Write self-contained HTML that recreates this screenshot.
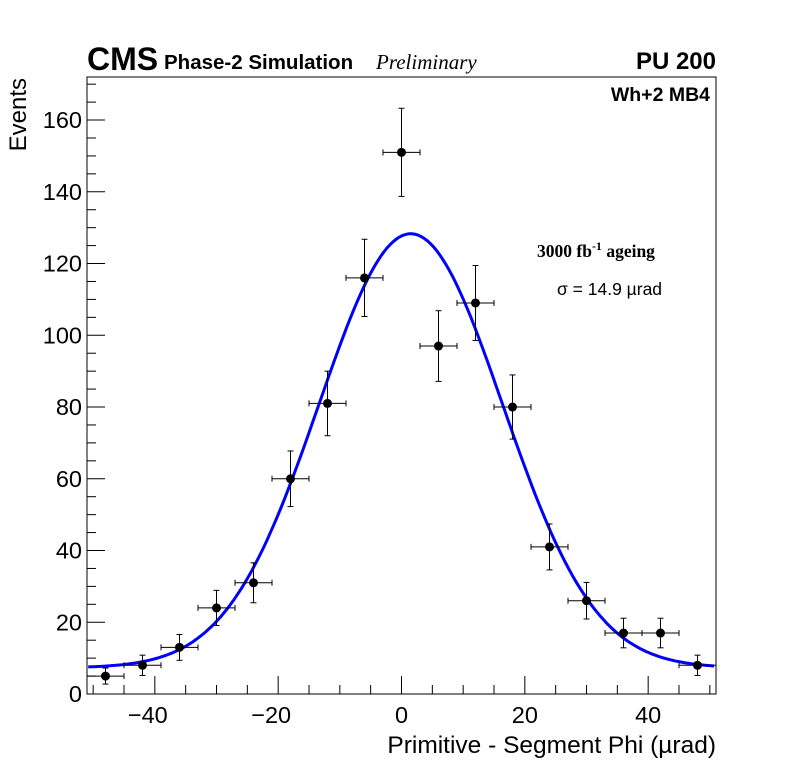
<!DOCTYPE html>
<html><head><meta charset="utf-8"><style>
html,body{margin:0;padding:0;background:#fff;}
svg{display:block;font-family:"Liberation Sans",sans-serif;}
</style></head><body>
<svg id="chart" width="796" height="772" viewBox="0 0 796 772" xmlns="http://www.w3.org/2000/svg">
<g id="axes"></g>
<g id="marks"></g>
<text x="87" y="70" font-size="32" font-weight="bold">CMS</text>
<text x="164" y="69" font-size="20.5" font-weight="bold">Phase-2 Simulation</text>
<text x="376" y="69" font-size="21" font-style="italic" font-family="Liberation Serif, serif">Preliminary</text>
<text x="716" y="69" font-size="24" font-weight="bold" text-anchor="end">PU 200</text>
<text x="710" y="101" font-size="19.5" font-weight="bold" text-anchor="end">Wh+2 MB4</text>
<text x="537" y="257" font-size="17.5" font-weight="bold" font-family="Liberation Serif, serif">3000 fb<tspan dy="-7" font-size="12">-1</tspan><tspan dy="7"> ageing</tspan></text>
<text x="557" y="295" font-size="17.5">σ = 14.9 µrad</text>
<text transform="translate(26,78) rotate(-90)" font-size="24" text-anchor="end">Events</text>
<text x="716" y="753" font-size="24.5" text-anchor="end">Primitive - Segment Phi (µrad)</text>
</svg>
<script>
const centers=[-48,-42,-36,-30,-24,-18,-12,-6,0,6,12,18,24,30,36,42,48];
const counts=[5,8,13,24,31,60,81,116,151,97,109,80,41,26,17,17,8];
const xTicks=[-40,-20,0,20,40];
const yTicks=[0,20,40,60,80,100,120,140,160];
const fitAmp=[121],fitMean=[1.5],fitSigma=[14.9],fitConst=[7.3];
const L=87,R=716,T=77,B=694,xmin=-51,xmax=51,ymin=0,ymax=172;
const NS="http://www.w3.org/2000/svg";
function X(v){return L+(v-xmin)/(xmax-xmin)*(R-L);}
function Y(v){return B-(v-ymin)/(ymax-ymin)*(B-T);}
function mk(t,a,p){const e=document.createElementNS(NS,t);for(const k in a)e.setAttribute(k,a[k]);p.appendChild(e);return e;}
const ax=document.getElementById('axes'),mg=document.getElementById('marks');
const fr=mk('rect',{x:L,y:T,width:R-L,height:B-T,fill:'none',stroke:'#000','stroke-width':1},ax);


for(let v=-50;v<=50;v+=5){const maj=v%20===0;const l=mk('line',{x1:X(v),x2:X(v),y1:B,y2:B-(maj?18:9),stroke:'#000'},ax);

}
xTicks.forEach(v=>{const t=mk('text',{x:X(v)+(v<0?-7:0),y:B+29,'font-size':23.5,'text-anchor':'middle'},ax);t.textContent=(v<0?'\u2212'+(-v):v);

});
for(let v=0;v<=170;v+=5){const maj=v%20===0;const l=mk('line',{x1:L,x2:L+(maj?18:9),y1:Y(v),y2:Y(v),stroke:'#000'},ax);

}
yTicks.forEach(v=>{const t=mk('text',{x:L-5,y:Y(v)+8,'font-size':23.5,'text-anchor':'end'},ax);t.textContent=v;

});
let d='';for(let x=xmin+0.2;x<=xmax-0.2;x+=0.5){const y=fitConst[0]+fitAmp[0]*Math.exp(-((x-fitMean[0])**2)/(2*fitSigma[0]**2));d+=(d?'L':'M')+X(x).toFixed(1)+','+Y(y).toFixed(1);}
const fit=mk('path',{d:d,fill:'none',stroke:'#0000ff','stroke-width':3},mg);


centers.forEach((c,i)=>{const n=counts[i],e=Math.sqrt(n);const g=mk('g',{},mg);


mk('line',{x1:X(c-3),x2:X(c+3),y1:Y(n),y2:Y(n),stroke:'#000'},g);
mk('line',{x1:X(c),x2:X(c),y1:Y(n+e),y2:Y(Math.max(0,n-e)),stroke:'#000'},g);
[c-3,c+3].forEach(q=>mk('line',{x1:X(q),x2:X(q),y1:Y(n)-3,y2:Y(n)+3,stroke:'#000'},g));
[n+e,n-e].forEach(q=>mk('line',{x1:X(c)-3,x2:X(c)+3,y1:Y(q),y2:Y(q),stroke:'#000'},g));
mk('circle',{cx:X(c),cy:Y(n),r:4.5,fill:'#000'},g);});
</script>
</body></html>
